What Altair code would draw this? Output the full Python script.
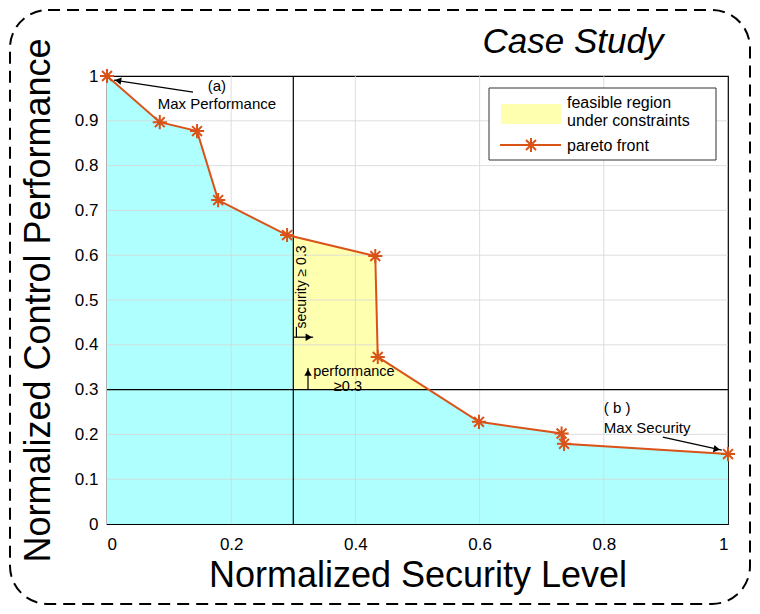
import altair as alt
import pandas as pd

# ---- data ----
sec = [0.0, 0.085, 0.145, 0.179, 0.290, 0.432, 0.436, 0.599, 0.732, 0.736, 1.0]
perf = [1.0, 0.897, 0.877, 0.723, 0.645, 0.598, 0.373, 0.228, 0.202, 0.179, 0.156]

feas_x = [0.3, 0.432, 0.436, 0.518]
feas_y = [0.642, 0.598, 0.373, 0.3]

x_ticks = [0, 0.2, 0.4, 0.6, 0.8, 1]
y_ticks = [0, 0.1, 0.2, 0.3, 0.4, 0.5, 0.6, 0.7, 0.8, 0.9, 1]

sec_limit = 0.3
perf_limit = 0.3

FONT = "Liberation Sans"
ORANGE = "#D95319"

pareto = pd.DataFrame({"sec": sec, "perf": perf})
feas = pd.DataFrame({"sec": feas_x, "perf": feas_y, "base": [perf_limit] * len(feas_x)})

xs = alt.Scale(domain=[0, 1], nice=False, zero=False)
ys = alt.Scale(domain=[0, 1], nice=False, zero=False)

X = alt.X("sec:Q", scale=xs, axis=alt.Axis(
    values=x_ticks, format="~g", grid=False, domain=False, ticks=False,
    labelFont=FONT, labelFontSize=17, labelColor="black", labelPadding=12,
    title="Normalized Security Level", titleFont=FONT, titleFontSize=36,
    titleFontWeight="normal", titleColor="black", titleY=51, titleBaseline="middle"))
Y = alt.Y("perf:Q", scale=ys, axis=alt.Axis(
    values=y_ticks, format="~g", grid=False, domain=False, ticks=False,
    labelFont=FONT, labelFontSize=17, labelColor="black", labelPadding=9,
    title="Normalized Control Performance", titleFont=FONT, titleFontSize=36,
    titleFontWeight="normal", titleColor="black", titleX=-69, titleY=224,
    titleBaseline="middle", titleAngle=270))

cyan = alt.Chart(pareto).mark_area(color="#AFFFFF", opacity=1).encode(
    x=X, y=Y, y2=alt.datum(0))

yellow = alt.Chart(feas).mark_area(color="#FFFFB0", opacity=1).encode(
    x="sec:Q", y="perf:Q", y2="base:Q")

gx = alt.Chart(pd.DataFrame({"v": x_ticks[1:-1]})).mark_rule(
    color="#D6D6D6", strokeWidth=1, opacity=0.8).encode(x="v:Q")
gy = alt.Chart(pd.DataFrame({"v": y_ticks[1:-1]})).mark_rule(
    color="#D6D6D6", strokeWidth=1, opacity=0.8).encode(y="v:Q")

vline = alt.Chart(pd.DataFrame({"v": [sec_limit]})).mark_rule(
    color="black", strokeWidth=1.2).encode(x="v:Q")
hline = alt.Chart(pd.DataFrame({"v": [perf_limit]})).mark_rule(
    color="black", strokeWidth=1.2).encode(y="v:Q")

line = alt.Chart(pareto).mark_line(color=ORANGE, strokeWidth=2).encode(
    x="sec:Q", y="perf:Q")

STAR = "M-1,0L1,0M0,-1L0,1M-0.7,-0.7L0.7,0.7M-0.7,0.7L0.7,-0.7"
stars = alt.Chart(pareto).mark_point(
    shape=STAR, size=200, stroke=ORANGE, strokeWidth=2, filled=False, opacity=1).encode(
    x="sec:Q", y="perf:Q")

# ---- annotations ----
arr = pd.DataFrame({
    "x": [0.1385, 0.895, 0.300, 0.3237, 0.305],
    "y": [0.964, 0.194, 0.417, 0.299, 0.440],
    "x2": [0.0113, 0.990, 0.332, 0.3237, 0.305],
    "y2": [0.991, 0.165, 0.417, 0.348, 0.417],
})
arr_lines = alt.Chart(arr).mark_rule(color="black", strokeWidth=1.2).encode(
    x="x:Q", y="y:Q", x2="x2:Q", y2="y2:Q")

heads = pd.DataFrame({
    "x": [0.0177, 0.982, 0.325, 0.3237],
    "y": [0.9897, 0.167, 0.417, 0.338],
    "a": [279, 102, 90, 0],
})
arr_heads = alt.Chart(heads).mark_point(
    shape="triangle-up", size=55, filled=True, color="black", opacity=1).encode(
    x="x:Q", y="y:Q", angle=alt.Angle("a:Q", scale=None))

notes = pd.DataFrame({
    "x": [0.177, 0.177, 0.800, 0.800, 0.332, 0.388],
    "y": [0.978, 0.9375, 0.259, 0.214, 0.340, 0.306],
    "t": ["(a)", "Max Performance", "( b )", "Max Security", "performance", "≥0.3"],
    "al": ["center", "center", "left", "left", "left", "center"],
    "fs": [15, 15, 15, 15, 14.5, 14.5],
})

texts = []
for _, r in notes.iterrows():
    texts.append(alt.Chart(pd.DataFrame([r])).mark_text(
        font=FONT, fontSize=float(r["fs"]), color="black", baseline="middle",
        align=r["al"]).encode(x="x:Q", y="y:Q", text="t:N"))

sec_text = alt.Chart(pd.DataFrame({"x": [0.314], "y": [0.529], "t": ["security ≥ 0.3"]})).mark_text(
    font=FONT, fontSize=14, color="black", angle=270, baseline="middle", align="center").encode(
    x="x:Q", y="y:Q", text="t:N")

title = alt.Chart(pd.DataFrame({"t": ["Case Study"]})).mark_text(
    font=FONT, fontSize=35, fontStyle="italic", color="black", align="center",
    baseline="middle").encode(x=alt.value(466), y=alt.value(-34), text="t:N")

# ---- legend (drawn) ----
leg_box = alt.Chart(pd.DataFrame({"k": [0]})).mark_rect(
    fill="white", stroke="#333333", strokeWidth=1).encode(
    x=alt.value(382), x2=alt.value(609), y=alt.value(12), y2=alt.value(84))
leg_patch = alt.Chart(pd.DataFrame({"k": [0]})).mark_rect(fill="#FFFFB0").encode(
    x=alt.value(394), x2=alt.value(454), y=alt.value(28), y2=alt.value(48))
leg_line = alt.Chart(pd.DataFrame({"k": [0]})).mark_rule(color=ORANGE, strokeWidth=2).encode(
    x=alt.value(393), x2=alt.value(454), y=alt.value(69))
leg_star = alt.Chart(pd.DataFrame({"k": [0]})).mark_point(
    shape=STAR, size=200, stroke=ORANGE, strokeWidth=2, filled=False, opacity=1).encode(
    x=alt.value(424), y=alt.value(69))
leg_t1 = alt.Chart(pd.DataFrame({"t": [["feasible region", "under constraints"]]})).mark_text(
    font=FONT, fontSize=16, color="black", align="left", baseline="top", lineHeight=18).encode(
    x=alt.value(460), y=alt.value(19), text="t")
leg_t2 = alt.Chart(pd.DataFrame({"t": ["pareto front"]})).mark_text(
    font=FONT, fontSize=16, color="black", align="left", baseline="middle").encode(
    x=alt.value(460), y=alt.value(70), text="t:N")

border = alt.Chart(pd.DataFrame({"k": [0]})).mark_rect(
    filled=False, fill=None, stroke="black", strokeWidth=2, strokeDash=[12, 7],
    cornerRadius=38).encode(
    x=alt.value(-97), x2=alt.value(643), y=alt.value(-66), y2=alt.value(528))

chart = alt.layer(
    cyan, yellow, gx, gy, vline, hline, line, stars,
    arr_lines, arr_heads, *texts, sec_text, title,
    leg_box, leg_patch, leg_line, leg_star, leg_t1, leg_t2, border
).properties(
    width=621, height=448,
    autosize=alt.AutoSizeParams(type="none"),
    padding={"left": 99, "top": 68, "right": 24, "bottom": 82},
).configure_view(stroke="black", strokeWidth=1.2)

chart.save("out.html", embed_options={"renderer": "svg", "actions": False})
